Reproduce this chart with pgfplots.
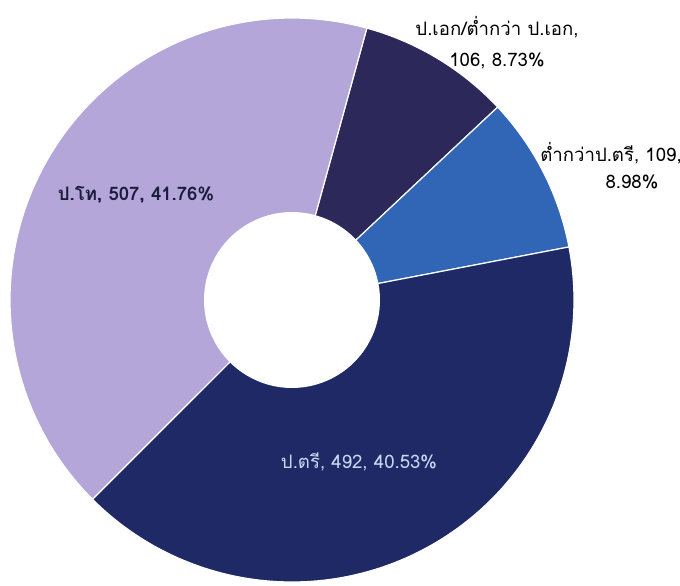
\documentclass[border=0pt]{standalone}
\usepackage{pgfplots}
\usepackage{pgfplotstable}
\pgfplotsset{compat=1.18}
\usepackage{fontspec}
\setmainfont[Script=Thai]{Loma}
\definecolor{cLav}{RGB}{180,166,216}
\definecolor{cNavy}{RGB}{45,40,90}
\definecolor{cBlue}{RGB}{49,102,182}
\definecolor{cIndigo}{RGB}{30,41,102}
\definecolor{cLabDark}{RGB}{28,28,60}
\definecolor{cLabLight}{RGB}{200,216,245}

\pgfplotstableread{
key value
phd 106
below 109
bach 492
master 507
}\datatable

\pgfplotstablegetelem{0}{value}\of\datatable \let\va\pgfplotsretval
\pgfplotstablegetelem{1}{value}\of\datatable \let\vb\pgfplotsretval
\pgfplotstablegetelem{2}{value}\of\datatable \let\vc\pgfplotsretval
\pgfplotstablegetelem{3}{value}\of\datatable \let\vd\pgfplotsretval
\pgfmathsetmacro\tot{\va+\vb+\vc+\vd}
\pgfmathsetmacro\aS{74.6}
\pgfmathsetmacro\aA{\aS-360*(\va/\tot)}
\pgfmathsetmacro\aB{\aA-360*(\vb/\tot)}
\pgfmathsetmacro\aC{\aB-360*(\vc/\tot)}
\pgfmathsetmacro\aD{\aC-360*(\vd/\tot)}

\begin{document}
\begin{tikzpicture}
\begin{axis}[
  scale only axis, width=340pt, height=292.5pt,
  xmin=0, xmax=680, ymin=0, ymax=585,
  hide axis, clip=true,
]
\def\cx{292}\def\cy{285}\def\R{282}\def\r{88}
\addplot[fill=cNavy, draw=white, line width=0.6pt, domain=\aA:\aS, samples=40, variable=\t]
  ({\cx+\R*cos(\t)},{\cy+\R*sin(\t)}) -- (axis cs:\cx,\cy) -- cycle;
\addplot[fill=cBlue, draw=white, line width=0.6pt, domain=\aB:\aA, samples=40, variable=\t]
  ({\cx+\R*cos(\t)},{\cy+\R*sin(\t)}) -- (axis cs:\cx,\cy) -- cycle;
\addplot[fill=cIndigo, draw=white, line width=0.6pt, domain=\aC:\aB, samples=120, variable=\t]
  ({\cx+\R*cos(\t)},{\cy+\R*sin(\t)}) -- (axis cs:\cx,\cy) -- cycle;
\addplot[fill=cLav, draw=white, line width=0.6pt, domain=\aD:\aC, samples=120, variable=\t]
  ({\cx+\R*cos(\t)},{\cy+\R*sin(\t)}) -- (axis cs:\cx,\cy) -- cycle;
\addplot[fill=white, draw=none, domain=0:360, samples=120, variable=\t]
  ({\cx+\r*cos(\t)},{\cy+\r*sin(\t)}) -- cycle;

\node[anchor=base, font=\fontsize{9.3}{11}\selectfont] at (axis cs:497,549) {ป.เอก/ต่ำกว่า ป.เอก,};
\node[anchor=base, font=\fontsize{9.3}{11}\selectfont] at (axis cs:497,518) {106, 8.73\%};
\node[anchor=base, font=\fontsize{9.3}{11}\selectfont] at (axis cs:611,423) {ต่ำกว่าป.ตรี, 109,};
\node[anchor=base, font=\fontsize{9.3}{11}\selectfont] at (axis cs:632,397) {8.98\%};
\node[anchor=base, text=cLabDark, font=\fontsize{9.3}{11}\selectfont\bfseries] at (axis cs:136,385) {ป.โท, 507, 41.76\%};
\node[anchor=base, text=cLabLight, font=\fontsize{9.3}{11}\selectfont] at (axis cs:359,117) {ป.ตรี, 492, 40.53\%};
\end{axis}
\pgfresetboundingbox
\useasboundingbox (current axis.south west) rectangle (current axis.north east);
\end{tikzpicture}
\end{document}
